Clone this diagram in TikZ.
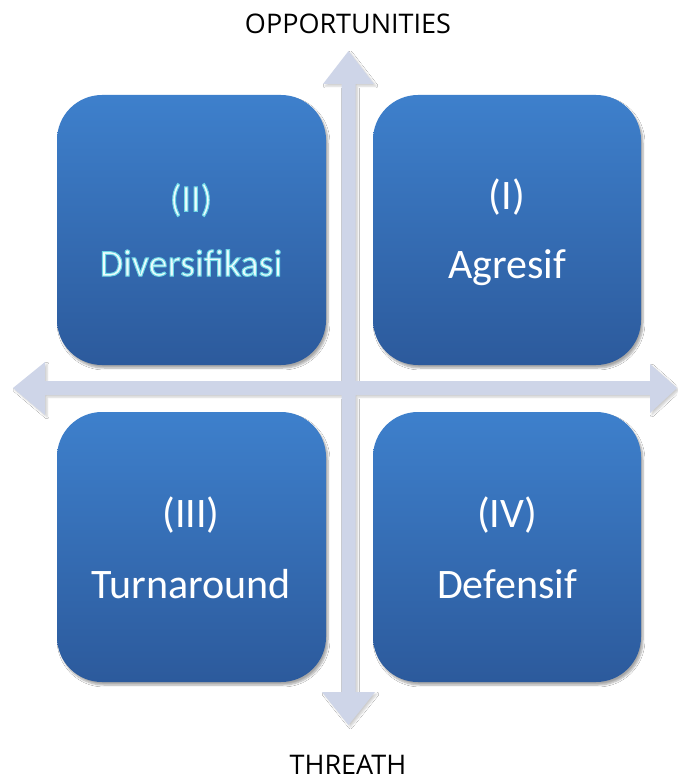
\documentclass[tikz,border=0pt]{standalone}
\usepackage{fontspec}
\setmainfont{Carlito}
\newfontfamily\labelfont{Open Sans}
\usetikzlibrary{shadows.blur}

\definecolor{boxtop}{RGB}{62,128,204}
\definecolor{boxbottom}{RGB}{44,90,156}
\definecolor{axisfill}{RGB}{206,213,232}
\definecolor{glowtext}{RGB}{236,252,252}

\tikzset{
  quadrant/.style={rounded corners=45pt, top color=boxtop, bottom color=boxbottom,
    blur shadow={shadow xshift=2pt, shadow yshift=-3pt, shadow opacity=35, shadow blur steps=6}},
  quadtext/.style={text=white, font=\fontsize{42}{50}\selectfont, align=center},
  glowlabel/.style={text=glowtext, font=\fontsize{38}{44}\selectfont},
  axislabel/.style={font=\labelfont\fontsize{27}{31}\selectfont, text=black, inner sep=0pt},
  axisshape/.style={fill=axisfill,
    blur shadow={shadow xshift=2pt, shadow yshift=-2pt, shadow opacity=20, shadow blur steps=5}},
}

% pale letters with a cyan rim: fill-then-stroke text rendering
\newcommand{\rimmed}[1]{%
  \special{pdf:literal direct q 2 Tr 1.0 w 0.42 0.84 0.90 RG}#1\special{pdf:literal direct Q}}

\begin{document}
\begin{tikzpicture}[x=1pt, y=-1pt]
  \useasboundingbox (0,0) rectangle (677,781);
  \fill[white] (0,0) rectangle (677,781);

  % four quadrant boxes
  \path[quadrant] (57,95) rectangle (326,365);
  \path[quadrant] (373,95) rectangle (641,365);
  \path[quadrant] (57,412) rectangle (326,682);
  \path[quadrant] (373,412) rectangle (641,682);

  % the two double-headed axes as one cross-shaped outline
  \path[axisshape] (348.5,51) -- (374,84) -- (355.5,84) -- (355.5,381)
     -- (650,381) -- (650,364) -- (677,388) -- (650,413) -- (650,395)
     -- (355.5,395) -- (355.5,692) -- (375,692) -- (348.5,725) -- (322,692)
     -- (341.5,692) -- (341.5,395) -- (45,395) -- (45,415) -- (13,388)
     -- (45,362) -- (45,381) -- (341.5,381) -- (341.5,84) -- (323,84) -- cycle;

  % quadrant II
  \node[glowlabel] (q2num) at (191,200) {\rimmed{(II)}};
  \node[glowlabel] (q2name) at (191,263) {\rimmed{Diversifikasi}};
  % quadrant I
  \node[quadtext] (q1num) at (507,197) {(I)};
  \node[quadtext] (q1name) at (507,268) {Agresif};
  % quadrant III
  \node[quadtext] (q3num) at (191,515) {(III)};
  \node[quadtext] (q3name) at (191,584) {Turnaround};
  % quadrant IV
  \node[quadtext] (q4num) at (507,515) {(IV)};
  \node[quadtext] (q4name) at (507,584) {Defensif};

  % axis captions
  \node[axislabel] (opp) at (348,24) {OPPORTUNITIES};
  \node[axislabel] (thr) at (348,765) {THREATH};
\end{tikzpicture}
\end{document}
